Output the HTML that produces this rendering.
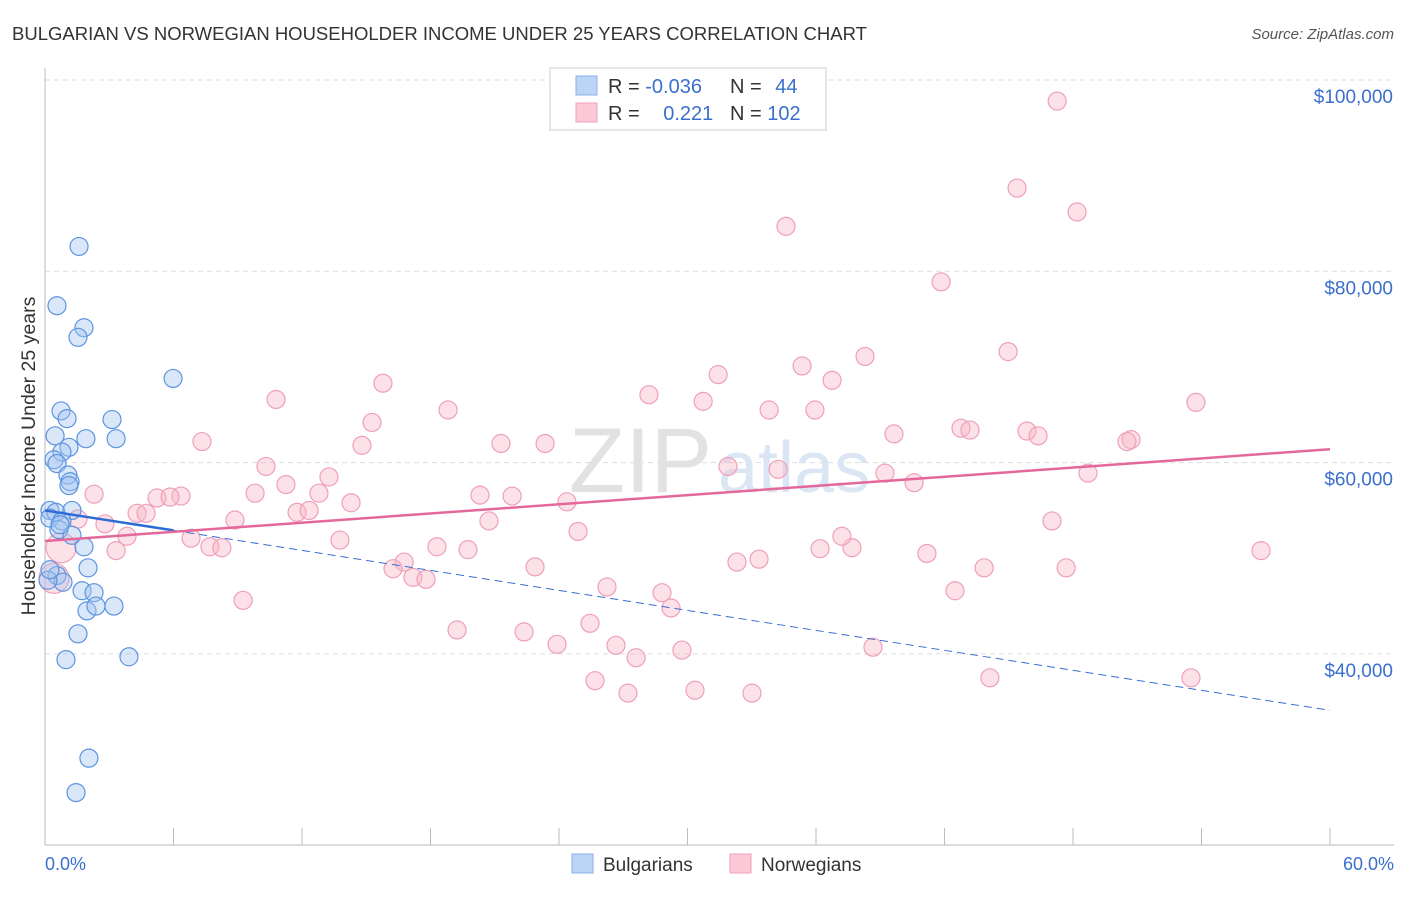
<!DOCTYPE html>
<html><head><meta charset="utf-8"><style>
body{margin:0;background:#fff;font-family:"Liberation Sans",sans-serif;}
svg text{font-family:"Liberation Sans",sans-serif;}
</style></head><body>
<svg id="chart" width="1406" height="892" xmlns="http://www.w3.org/2000/svg">
<text x="12" y="40" font-size="18.5" fill="#333">BULGARIAN VS NORWEGIAN HOUSEHOLDER INCOME UNDER 25 YEARS CORRELATION CHART</text>
<text x="1394" y="39" font-size="15" fill="#555" text-anchor="end" font-style="italic">Source: ZipAtlas.com</text>
<text x="35" y="456" font-size="19.5" fill="#333" text-anchor="middle" transform="rotate(-90 35 456)">Householder Income Under 25 years</text>
<g id="grid"></g>
<text x="712" y="492" font-size="92" fill="#e2e2e2" text-anchor="end" font-family="Liberation Serif">ZIP</text>
<text x="718" y="492" font-size="72" fill="#dbe6f5">atlas</text>
<g id="marks"></g>
<g>
<rect x="550" y="68" width="276" height="62" fill="#fff" stroke="#ccc"/>
<rect x="576" y="76" width="21" height="19" fill="#bcd4f6" stroke="#8ab0e8"/>
<rect x="576" y="103" width="21" height="19" fill="#fbc9d7" stroke="#f0a0b8"/>
<text x="608" y="93" font-size="20" fill="#333">R = <tspan fill="#3a6fcf">-0.036</tspan></text>
<text x="730" y="93" font-size="20" fill="#333">N = <tspan fill="#3a6fcf" dx="8">44</tspan></text>
<text x="608" y="120" font-size="20" fill="#333">R = <tspan fill="#3a6fcf" dx="18">0.221</tspan></text>
<text x="730" y="120" font-size="20" fill="#333">N = <tspan fill="#3a6fcf">102</tspan></text>
</g>
<g>
<rect x="572" y="854" width="21" height="19" fill="#bcd4f6" stroke="#8ab0e8"/>
<text x="603" y="871" font-size="19" fill="#333">Bulgarians</text>
<rect x="730" y="854" width="21" height="19" fill="#fbc9d7" stroke="#f0a0b8"/>
<text x="761" y="871" font-size="19" fill="#333">Norwegians</text>
</g>
<text x="45" y="870" font-size="18" fill="#3a6fcf">0.0%</text>
<text x="1394" y="870" font-size="18" fill="#3a6fcf" text-anchor="end">60.0%</text>
</svg>
<script>
const yTicks=[100000,80000,60000,40000];
const yTickLabels=["$100,000","$80,000","$60,000","$40,000"];
const xTicks=[0,6,12,18,24,30,36,42,48,54,60];
const bulX=[1.59,0.56,1.82,1.54,5.98,0.75,1.03,3.13,0.47,1.91,3.32,1.12,0.79,0.42,0.56,1.07,1.17,1.12,0.23,0.51,1.26,0.23,0.79,0.65,1.26,1.82,2.01,0.56,0.84,1.73,2.29,1.96,2.38,3.22,1.54,0.98,3.92,2.05,1.45,0.14,0.23,0.70];
const bulY=[82.6,76.4,74.1,73.1,68.8,65.4,64.6,64.5,62.8,62.5,62.5,61.6,61.1,60.3,59.9,58.7,58.0,57.6,55.0,54.8,55.0,54.2,53.9,53.0,52.4,51.2,49.0,48.2,47.5,46.6,46.4,44.5,45.0,45.0,42.1,39.4,39.7,29.1,25.5,47.7,48.8,53.5];
const norX=[47.26,45.39,48.19,34.60,41.84,44.97,38.29,35.35,31.43,36.75,15.78,10.79,28.20,30.73,18.82,33.81,35.95,15.27,42.77,43.19,39.64,45.85,46.37,50.71,50.52,7.33,14.80,21.29,23.35,53.74,10.32,31.89,34.23,39.22,48.70,13.26,40.58,11.25,2.29,5.23,6.35,5.84,9.81,12.79,20.31,21.81,24.37,14.29,11.77,12.33,4.30,4.72,1.54,2.80,8.87,20.73,47.02,24.89,3.83,6.82,13.77,7.70,8.26,18.30,19.75,3.32,36.19,37.68,37.21,41.18,56.78,33.34,32.31,16.77,16.25,22.88,17.18,17.79,43.85,47.68,26.24,28.81,29.23,9.25,42.49,25.45,19.24,22.37,23.91,26.66,27.60,29.74,38.66,25.68,44.12,53.51,27.22,30.35,33.01];
const norY=[97.8,88.7,86.2,84.7,78.9,71.6,71.1,70.1,69.2,68.6,68.3,66.6,67.1,66.4,65.5,65.5,65.5,64.2,63.6,63.4,63.0,63.3,62.8,62.4,62.2,62.2,61.8,62.0,62.0,66.3,59.6,59.6,59.3,58.9,58.9,58.5,57.9,57.7,56.7,56.3,56.5,56.4,56.8,56.8,56.6,56.5,55.9,55.8,54.8,55.0,54.7,54.7,54.1,53.6,54.0,53.9,53.9,52.8,52.3,52.1,51.9,51.2,51.1,51.2,50.9,50.8,51.0,51.1,52.3,50.5,50.8,49.9,49.6,49.6,48.9,49.1,48.0,47.8,49.0,49.0,47.0,46.4,44.8,45.6,46.6,43.2,42.5,42.3,41.0,40.9,39.6,40.4,40.7,37.2,37.5,37.5,35.9,36.2,35.9];
const norBigX=[0.75,0.42];
const norBigY=[51.1,47.9];
const bulTrend=[55.0,34.1];
const norTrend=[51.8,61.4];
const NS="http://www.w3.org/2000/svg";
const sx=v=>45+v/60*1285;
const sy=v=>80+(100000-v)/20000*191.3;
const syk=v=>sy(v*1000);
function mk(tag,attrs,parent){const e=document.createElementNS(NS,tag);for(const k in attrs)e.setAttribute(k,attrs[k]);parent.appendChild(e);return e;}
const grid=document.getElementById('grid'),marks=document.getElementById('marks');
yTicks.forEach((t,i)=>{
 const l=mk('line',{x1:45,x2:1394,y1:sy(t),y2:sy(t),stroke:'#ddd','stroke-dasharray':'5,4'},grid);
 
 
 const tx=mk('text',{x:1393,y:sy(t)+23,'font-size':19,fill:'#3a6fcf','text-anchor':'end'},grid);
 tx.textContent=yTickLabels[i];
 
 
});
const ya=mk('line',{x1:45,x2:45,y1:68,y2:845,stroke:'#bbb'},grid);


const xa=mk('line',{x1:45,x2:1394,y1:845,y2:845,stroke:'#bbb'},grid);


xTicks.forEach(t=>{
 const l=mk('line',{x1:sx(t),x2:sx(t),y1:828,y2:845,stroke:'#bbb'},grid);
 
 
});
function dot(x,y,r,fill,stroke,name){
 const c=mk('circle',{cx:sx(x),cy:syk(y),r:r,fill:fill,stroke:stroke,'stroke-width':1.2},marks);
 
 
}
norX.forEach((x,i)=>dot(x,norY[i],9,'rgba(248,180,200,0.4)','#eea0b8','norwegian-point'));
norBigX.forEach((x,i)=>dot(x,norBigY[i],15,'rgba(248,180,200,0.4)','#eea0b8','norwegian-point-large'));
bulX.forEach((x,i)=>dot(x,bulY[i],9,'rgba(160,195,240,0.4)','#5d94e0','bulgarian-point'));
const ty=(tr,x)=>tr[0]+(tr[1]-tr[0])*x/60;
let l=mk('line',{x1:sx(0),y1:syk(ty(bulTrend,0)),x2:sx(60),y2:syk(ty(bulTrend,60)),stroke:'#3a6fcf','stroke-width':1,'stroke-dasharray':'8,5'},marks);


l=mk('line',{x1:sx(0),y1:syk(ty(bulTrend,0)),x2:sx(6),y2:syk(ty(bulTrend,6)),stroke:'#2d6bd6','stroke-width':2.5},marks);


l=mk('line',{x1:sx(0),y1:syk(ty(norTrend,0)),x2:sx(60),y2:syk(ty(norTrend,60)),stroke:'#e5689a','stroke-width':2.5},marks);


</script>
</body></html>
